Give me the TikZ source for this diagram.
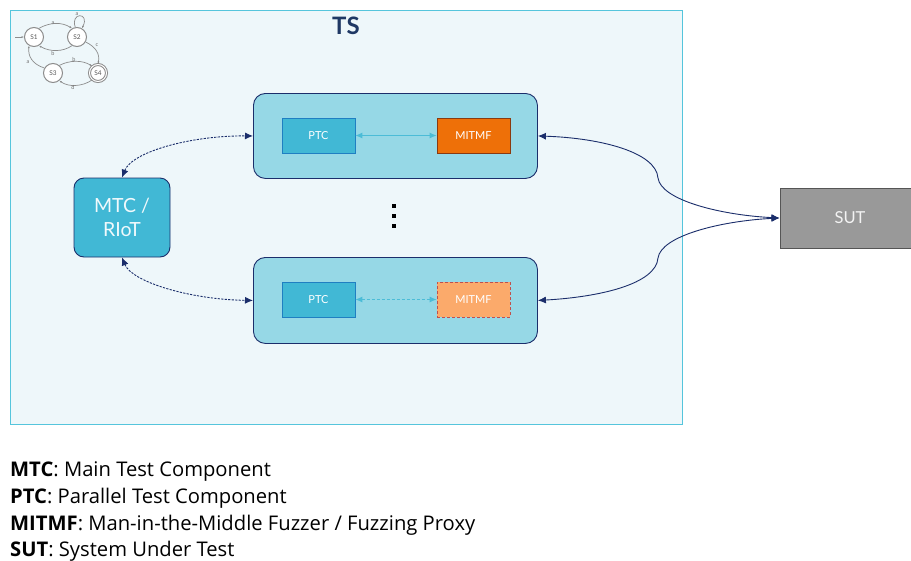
\documentclass[tikz,border=0pt]{standalone}
\usepackage{fontspec}
\setmainfont{Lato}
\newfontfamily\legendfont{Open Sans}
\usetikzlibrary{arrows.meta}
\definecolor{tsfill}{HTML}{EEF7FA}
\definecolor{tsline}{HTML}{55C5DC}
\definecolor{navy}{HTML}{1B2E6B}
\definecolor{boxfill}{HTML}{96D8E6}
\definecolor{ptcfill}{HTML}{41B8D5}
\definecolor{ptcline}{HTML}{1F7FC2}
\definecolor{mitfill}{HTML}{EE7008}
\definecolor{mitline}{HTML}{8A3A10}
\definecolor{mitlight}{HTML}{FBAA6B}
\definecolor{mitlightline}{HTML}{C0504D}
\definecolor{linkcyan}{HTML}{4CBCD7}
\definecolor{sutfill}{HTML}{999999}
\definecolor{sutline}{HTML}{555555}
\definecolor{fsm}{HTML}{8C8C8C}
\definecolor{titleblue}{HTML}{1F3864}
\tikzset{
  ptcbox/.style={draw=ptcline, fill=ptcfill, line width=0.8pt, minimum width=73, minimum height=35, inner sep=0, text=white, font=\fontsize{11}{12}\selectfont},
  mitbox/.style={draw=mitline, fill=mitfill, line width=0.8pt, minimum width=73, minimum height=35, inner sep=0, text=white, font=\fontsize{11}{12}\selectfont},
  container/.style={draw=navy, fill=boxfill, line width=0.9pt, rounded corners=12, minimum width=284, inner sep=0},
  navyarrow/.style={draw=navy, line width=0.9pt, {Latex[length=8,width=7]}-{Latex[length=8,width=7]}},
  cyanarrow/.style={draw=linkcyan, line width=0.9pt, {Latex[length=7,width=6]}-{Latex[length=7,width=6]}},
  state/.style={circle, draw=fsm, fill=white, line width=1pt, minimum size=19, inner sep=0, text=fsm!60!black, font=\fontsize{6.5}{7}\selectfont},
  fsmedge/.style={draw=fsm, line width=0.7pt, -{Latex[length=2.5,width=2]}},
  fsmlabel/.style={text=fsm!80!black, font=\fontsize{5.5}{6}\selectfont, inner sep=0},
  legend/.style={anchor=base west, inner sep=0, font=\legendfont\fontsize{20.2}{22}\selectfont, text=black}
}
\begin{document}
\begin{tikzpicture}[x=1pt,y=-1pt]
\useasboundingbox[fill=white] (0,0) rectangle (911,560);

% test system frame
\node[draw=tsline, fill=tsfill, line width=1pt, minimum width=672, minimum height=414, inner sep=0, anchor=north west] (ts) at (10,10) {};
\node[text=titleblue, font=\fontsize{24}{26}\selectfont\bfseries] (tstitle) at (346,26) {TS};

% small state machine sketch
\node[state] (s1) at (34,37) {S1};
\node[state] (s2) at (77,37) {S2};
\node[state] (s3) at (53,73) {S3};
\node[state, double, double distance=1pt, minimum size=17] (s4) at (98,73) {S4};
\coordinate (entry) at (15,37);
\draw[fsmedge] (entry) -- (s1.west);
\draw[fsmedge] (s1.60) .. controls (50,22) and (62,22) .. (s2.120);
\draw[fsmedge] (s2.-120) .. controls (63,52) and (50,52) .. (s1.-60);
\draw[fsmedge] (s2.100) .. controls (70,12) and (90,12) .. (s2.60);
\draw[fsmedge] (s2.-30) .. controls (96,47) and (100,54) .. (s4.north);
\draw[fsmedge] (s3.150) .. controls (32,64) and (28,56) .. (s1.-120);
\draw[fsmedge] (s3.50) .. controls (70,60) and (82,60) .. (s4.130);
\draw[fsmedge] (s4.-130) .. controls (82,87) and (68,87) .. (s3.-50);
\node[fsmlabel] (la1) at (53,23) {a};
\node[fsmlabel] (lb1) at (53,53) {b};
\node[fsmlabel] (la2) at (77,14) {a};
\node[fsmlabel] (lc) at (97,45) {c};
\node[fsmlabel] (la3) at (28,62) {a};
\node[fsmlabel] (lb2) at (74,59) {b};
\node[fsmlabel] (ld) at (73,87) {d};

% parallel test component groups
\node[container, minimum height=85, anchor=north west] (upbox) at (253,93) {};
\node[container, minimum height=86, anchor=north west] (lowbox) at (253,257) {};
\node[ptcbox] (ptc1) at (318.5,135.5) {PTC};
\node[mitbox] (mit1) at (473.5,135.5) {MITMF};
\node[ptcbox] (ptc2) at (318.5,299.5) {PTC};
\node[mitbox, fill=mitlight, draw=mitlightline, densely dashed] (mit2) at (473.5,299.5) {MITMF};
\draw[cyanarrow] (ptc1.east) -- (mit1.west);
\draw[cyanarrow, densely dashed] (ptc2.east) -- (mit2.west);

% vertical ellipsis between the groups
\fill (392,204) rectangle ++(4,4) node[coordinate] (d1) {};
\fill (392,214) rectangle ++(4,4) node[coordinate] (d2) {};
\fill (392,224) rectangle ++(4,4) node[coordinate] (d3) {};

% main test component
\node[draw=navy, fill=ptcfill, line width=0.9pt, rounded corners=10, minimum width=96, minimum height=79, inner sep=0, align=center, text=white!92!ptcfill, font=\fontsize{19.5}{24}\selectfont] (mtc) at (122,217.5) {MTC /\\RIoT};
\draw[navyarrow, dash pattern=on 2.2pt off 1.3pt] (mtc.north) .. controls (132,152) and (190,135.5) .. (upbox.west);
\draw[navyarrow, dash pattern=on 2.2pt off 1.3pt] (mtc.south) .. controls (132,282) and (190,299.5) .. (lowbox.west);

% system under test
\node[draw=sutline, fill=sutfill, line width=0.9pt, minimum width=140, minimum height=60, inner sep=0, text=white!88!sutfill, font=\fontsize{16.5}{18}\selectfont] (sut) at (850,218) {SUT};
\draw[navyarrow] (upbox.east) .. controls (600,138) and (656,152) .. (658,178) .. controls (661,200) and (720,215) .. (sut.west);
\draw[navyarrow] (lowbox.east) .. controls (600,297) and (656,284) .. (658,258) .. controls (661,236) and (720,221) .. (sut.west);

% legend
\node[legend] (leg1) at (10,476) {\textbf{MTC}: Main Test Component};
\node[legend] (leg2) at (10,503) {\textbf{PTC}: Parallel Test Component};
\node[legend] (leg3) at (10,530) {\textbf{MITMF}: Man-in-the-Middle Fuzzer / Fuzzing Proxy};
\node[legend] (leg4) at (10,556.5) {\textbf{SUT}: System Under Test};
\end{tikzpicture}
\end{document}
